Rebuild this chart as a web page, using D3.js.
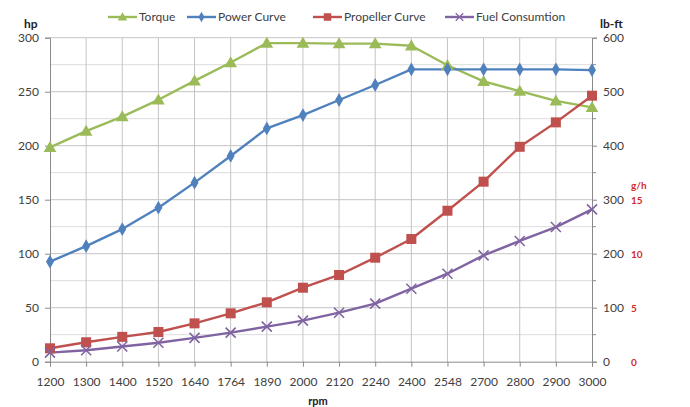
<!DOCTYPE html>
<html><head><meta charset="utf-8">
<script src="https://cdn.jsdelivr.net/npm/d3@7"></script>
<style>body{margin:0;background:#fff}svg{display:block}text{font-family:Lato,"Open Sans",sans-serif}</style>
</head><body><div id="c"></div>
<script>
const rpm = ["1200","1300","1400","1520","1640","1764","1890","2000","2120","2240","2400","2548","2700","2800","2900","3000"];
const torque = [397,427,454,485,520,554,590,590,589,589,585,549,519,501,483,471]; // lb-ft
const power = [92.6,107,122.8,142.6,165.8,190.5,216,228.4,242.3,256.2,270.7,270.7,270.7,270.7,270.7,270];
const propeller = [12.4,18,23,27.5,35.5,44.8,55,68.5,80.3,96.3,113.6,139.8,166.7,199,221.6,246.3];
const fuel = [0.93,1.15,1.5,1.85,2.3,2.78,3.34,3.9,4.63,5.47,6.85,8.24,9.94,11.27,12.56,14.2]; // g/h
const hpTicks = [0,50,100,150,200,250,300];
const lbTicks = [0,100,200,300,400,500,600];
const ghTicks = [0,5,10,15];
const names = ["Torque","Power Curve","Propeller Curve","Fuel Consumtion"];
const colors = ["#9BBB59","#4F81BD","#C0504D","#8064A2"];

const W=690,H=407, L=50, R=592, T=37.7, B=361.7;
const svg=d3.select("#c").append("svg").attr("width",W).attr("height",H);
const x=d3.scalePoint().domain(rpm).range([L,R]);
const yHp=d3.scaleLinear().domain([0,300]).range([B,T]);
const yLb=d3.scaleLinear().domain([0,600]).range([B,T]);
const yGh=d3.scaleLinear().domain([0,30]).range([B+1,T+1]);

// gridlines
const g=svg.append("g");
g.selectAll("line.min").data(d3.range(25,300,50)).join("line")
 .attr("x1",L).attr("x2",R).attr("y1",d=>yHp(d)).attr("y2",d=>yHp(d)).attr("stroke","#dcdcdc").attr("stroke-width",1);
g.selectAll("line.maj").data(hpTicks.slice(1)).join("line")
 .attr("x1",L).attr("x2",R).attr("y1",d=>yHp(d)).attr("y2",d=>yHp(d)).attr("stroke","#c4c4c4").attr("stroke-width",1);
g.selectAll("line.v").data(rpm.slice(1,-1)).join("line")
 .attr("x1",d=>x(d)).attr("x2",d=>x(d)).attr("y1",T).attr("y2",B).attr("stroke","#c4c4c4").attr("stroke-width",1);

// axes
const ax="#8a8a8a", tc="#404040";
const xa=svg.append("g").attr("transform",`translate(0,${B})`).call(d3.axisBottom(x).tickSize(5).tickPadding(11));
const la=svg.append("g").attr("transform",`translate(${L},0)`).call(d3.axisLeft(yHp).tickValues(hpTicks).tickSize(5).tickPadding(6));
const ra=svg.append("g").attr("transform",`translate(${R},0)`).call(d3.axisRight(yLb).tickValues(lbTicks).tickSize(5).tickPadding(6));
svg.append("g").attr("transform",`translate(${R},0)`).selectAll("line").data(d3.range(50,600,100)).join("line")
 .attr("x1",0).attr("x2",4).attr("y1",d=>yLb(d)).attr("y2",d=>yLb(d)).attr("stroke",ax);
[xa,la,ra].forEach(a=>{a.select(".domain").attr("stroke",ax);a.selectAll(".tick line").attr("stroke",ax);
 a.selectAll("text").attr("fill",tc).style("font-size","12px");});
la.selectAll("text").attr("dy","0.35em");

// g/h axis labels
svg.append("g").selectAll("text").data(ghTicks).join("text")
 .attr("x",631).attr("y",d=>yGh(d)).attr("dy","0.35em").attr("fill","#d42a2a").style("font-size","10px").style("font-weight","bold").text(d=>d);
svg.append("text").attr("x",631).attr("y",189).attr("fill","#d42a2a").style("font-size","10px").style("font-weight","bold").text("g/h");

// axis titles
svg.append("text").attr("x",24).attr("y",28).style("font-size","12px").style("font-weight","bold").attr("fill","#222").text("hp");
svg.append("text").attr("x",600).attr("y",28).style("font-size","12px").style("font-weight","bold").attr("fill","#222").text("lb-ft");
svg.append("text").attr("x",318).attr("y",405).attr("text-anchor","middle").style("font-size","11px").style("font-weight","bold").attr("fill","#222").text("rpm");

// series
const series=[
 {v:torque,y:yLb},{v:power,y:yHp},{v:propeller,y:yHp},{v:fuel,y:yGh}
];
const line=(s)=>d3.line().x((d,i)=>x(rpm[i])).y(d=>s.y(d));
function marker(sel,k,c){
 if(k===0) sel.append("path").attr("d",d3.symbol(d3.symbolTriangle,70)()).attr("fill",c).attr("transform","translate(0,1)");
 else if(k===1) sel.append("path").attr("d",d3.symbol(d3.symbolDiamond,55)()).attr("fill",c);
 else if(k===2) sel.append("rect").attr("x",-5).attr("y",-5).attr("width",10).attr("height",10).attr("fill",c);
 else sel.append("path").attr("d","M-5,-5L5,5M-5,5L5,-5").attr("stroke",c).attr("stroke-width",1.6).attr("fill","none");
}
series.forEach((s,k)=>{
 svg.append("path").datum(s.v).attr("d",line(s)).attr("fill","none").attr("stroke",colors[k]).attr("stroke-width",2.4).attr("stroke-linejoin","round");
});
series.forEach((s,k)=>{
 svg.append("g").selectAll("g").data(s.v).join("g").attr("transform",(d,i)=>`translate(${x(rpm[i])},${s.y(d)})`).each(function(){marker(d3.select(this),k,colors[k]);});
});

// legend
const lx=[108,187,313,445];
names.forEach((n,k)=>{
 const gg=svg.append("g").attr("transform",`translate(${lx[k]},17)`);
 gg.append("line").attr("x1",0).attr("x2",29).attr("stroke",colors[k]).attr("stroke-width",2.4);
 const m=gg.append("g").attr("transform","translate(14.5,0) scale(0.75)");
 marker(m,k,colors[k]);
 gg.append("text").attr("x",31).attr("dy","0.35em").style("font-size","12px").attr("fill",tc).text(n);
});
</script></body></html>
